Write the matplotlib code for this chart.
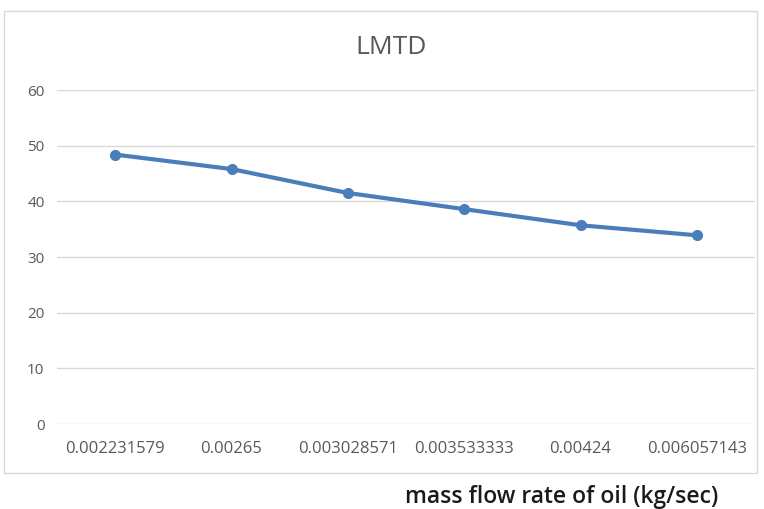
import matplotlib.pyplot as plt
from matplotlib.patches import Rectangle

# mass flow rate of oil (kg/sec), used as category labels
flow_labels = ["0.002231579", "0.00265", "0.003028571",
               "0.003533333", "0.00424", "0.006057143"]
lmtd = [48.4, 45.8, 41.5, 38.6, 35.7, 33.9]
y_ticks = [0, 10, 20, 30, 40, 50, 60]

LINE = "#4a7ebb"
GRID = "#d9d9d9"
TEXT = "#595959"

plt.rcParams["font.family"] = ["Open Sans", "DejaVu Sans"]

fig = plt.figure(figsize=(7.64, 5.09), dpi=100)
ax = fig.add_axes([57 / 764, 1 - 424 / 509, 698 / 764, 334 / 509])

x = range(len(lmtd))
ax.plot(x, lmtd, color=LINE, linewidth=3, marker="o", markersize=7,
        solid_capstyle="round", zorder=3)

ax.set_xlim(-0.5, len(lmtd) - 0.5)
ax.set_ylim(0, 60)
ax.set_yticks(y_ticks)
ax.set_xticks(list(x))
ax.set_xticklabels(flow_labels)
ax.yaxis.grid(True, color=GRID, linewidth=1)
ax.set_axisbelow(True)
for s in ax.spines.values():
    s.set_visible(False)
ax.tick_params(axis="both", length=0, labelcolor=TEXT)
ax.tick_params(axis="y", pad=9, labelsize=11)
ax.tick_params(axis="x", pad=12, labelsize=12)

# title sits over the whole chart box, not the plot area
fig.text(391 / 764, 1 - 47 / 509, "LMTD", ha="center", va="center",
         fontsize=19, color=TEXT)

# chart area border
fig.patches.append(Rectangle((4 / 764, 1 - 473 / 509), 753 / 764, 462 / 509,
                             transform=fig.transFigure, fill=False,
                             edgecolor=GRID, linewidth=1))

fig.text(562 / 764, 1 - 497 / 509, "mass flow rate of oil (kg/sec)",
         ha="center", va="center", fontsize=16.5, fontweight="semibold",
         color="#1a1a1a")

fig.savefig("out.png", dpi=100)
